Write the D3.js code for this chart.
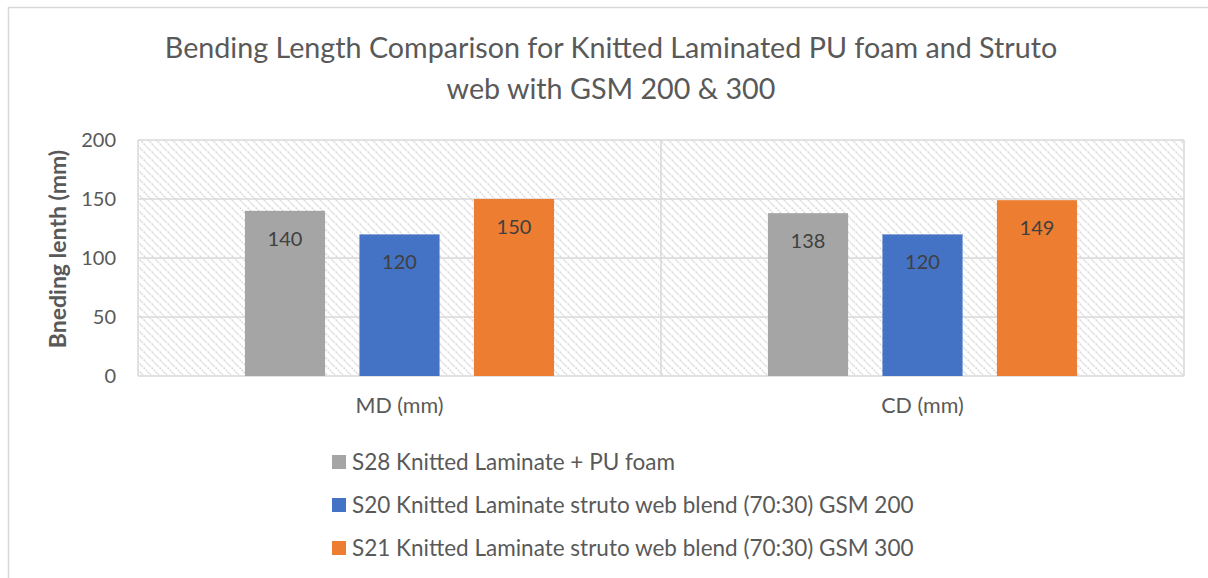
<!DOCTYPE html>
<html>
<head>
<meta charset="utf-8">
<script src="https://cdn.jsdelivr.net/npm/d3@7/dist/d3.min.js"></script>
<style>
  html, body { margin: 0; padding: 0; background: #fff; }
  svg { display: block; font-family: Lato, "Open Sans", sans-serif; }
</style>
</head>
<body>
<svg id="chart" width="1208" height="578"></svg>
<script>
// Chart data
const categories = ["MD (mm)", "CD (mm)"];
const seriesNames = [
  "S28 Knitted Laminate + PU foam",
  "S20 Knitted Laminate struto web blend (70:30) GSM 200",
  "S21 Knitted Laminate struto web blend (70:30) GSM 300"
];
const s28Values = [140, 138];
const s20Values = [120, 120];
const s21Values = [150, 149];
const yTicks = [0, 50, 100, 150, 200];
const seriesColors = ["#a5a5a5", "#4472c4", "#ed7d31"];

const seriesValues = [s28Values, s20Values, s21Values];

const svg = d3.select("#chart");
const W = 1208, H = 578;

// Outer chart border
svg.append("rect")
  .attr("x", 8.5).attr("y", 7.5)
  .attr("width", W + 10).attr("height", H + 10)
  .attr("fill", "#fff").attr("stroke", "#d9d9d9").attr("stroke-width", 1.5);

// Plot area
const plot = { left: 138, right: 1184, top: 140, bottom: 376 };

// Diagonal hatch fill for the plot background
const defs = svg.append("defs");
const pat = defs.append("pattern")
  .attr("id", "hatch")
  .attr("patternUnits", "userSpaceOnUse")
  .attr("width", 8).attr("height", 8);
pat.append("rect").attr("width", 8).attr("height", 8).attr("fill", "#fff");
pat.append("path")
  .attr("d", "M-2,-2 L10,10 M-2,6 L2,10 M6,-2 L10,2")
  .attr("stroke", "#d6d6d6").attr("stroke-width", 1.7)
  .attr("stroke-dasharray", "1.5,1.2");

svg.append("rect")
  .attr("x", plot.left).attr("y", plot.top)
  .attr("width", plot.right - plot.left).attr("height", plot.bottom - plot.top)
  .attr("fill", "url(#hatch)");

const x = d3.scaleBand().domain(categories).range([plot.left, plot.right]).padding(0);
const xs = d3.scaleBand().domain(d3.range(seriesNames.length))
  .range([0, x.bandwidth()]).paddingInner(0.30).paddingOuter(0.934);
const y = d3.scaleLinear().domain([0, 200]).range([plot.bottom, plot.top]);

const gridColor = "#d9d9d9";

// Horizontal gridlines
svg.append("g").selectAll("line").data(yTicks).join("line")
  .attr("x1", plot.left).attr("x2", plot.right)
  .attr("y1", d => y(d)).attr("y2", d => y(d))
  .attr("stroke", gridColor).attr("stroke-width", 1.5);

// Vertical lines at category boundaries and plot edges
const vEdges = [plot.left, ...categories.slice(1).map(c => x(c)), plot.right];
svg.append("g").selectAll("line").data(vEdges).join("line")
  .attr("x1", d => d).attr("x2", d => d)
  .attr("y1", plot.top).attr("y2", plot.bottom)
  .attr("stroke", gridColor).attr("stroke-width", 1.5);

// Y axis labels
const yAxis = d3.axisLeft(y).tickValues(yTicks).tickSize(0).tickPadding(0);
const yg = svg.append("g").attr("transform", `translate(${plot.left - 22},0)`).call(yAxis);
yg.select(".domain").remove();
yg.selectAll("text")
  .attr("fill", "#595959").style("font-size", "20px")
  .style("font-family", "Lato, 'Open Sans', sans-serif");

// X axis labels
const xAxis = d3.axisBottom(x).tickSize(0).tickPadding(0);
const xg = svg.append("g").attr("transform", `translate(0,${plot.bottom + 22})`).call(xAxis);
xg.select(".domain").remove();
xg.selectAll("text")
  .attr("fill", "#595959").style("font-size", "21.5px")
  .style("font-family", "Lato, 'Open Sans', sans-serif");

// Bars
const barData = [];
categories.forEach((c, ci) => {
  seriesValues.forEach((vals, si) => {
    barData.push({ cat: c, s: si, v: vals[ci] });
  });
});

svg.append("g").selectAll("rect").data(barData).join("rect")
  .attr("x", d => x(d.cat) + xs(d.s))
  .attr("y", d => y(d.v))
  .attr("width", xs.bandwidth())
  .attr("height", d => y(0) - y(d.v))
  .attr("fill", d => seriesColors[d.s]);

// Value labels inside bars
svg.append("g").selectAll("text").data(barData).join("text")
  .attr("x", d => x(d.cat) + xs(d.s) + xs.bandwidth() / 2)
  .attr("y", d => y(d.v) + 35)
  .attr("text-anchor", "middle")
  .attr("fill", "#404040")
  .style("font-size", "20px")
  .text(d => d.v);

// Title
const title = svg.append("text")
  .attr("text-anchor", "middle")
  .attr("fill", "#595959")
  .style("font-size", "28.7px");
title.append("tspan").attr("x", 611).attr("y", 58)
  .text("Bending Length Comparison for Knitted Laminated PU foam and Struto");
title.append("tspan").attr("x", 611).attr("y", 99)
  .text("web with GSM 200 & 300");

// Y axis title
svg.append("text")
  .attr("transform", `translate(66,249) rotate(-90)`)
  .attr("text-anchor", "middle")
  .attr("fill", "#595959")
  .style("font-size", "23px")
  .style("font-weight", "bold")
  .text("Bneding lenth (mm)");

// Legend
const legend = svg.append("g").selectAll("g").data(seriesNames).join("g")
  .attr("transform", (d, i) => `translate(332,${462 + i * 43})`);
legend.append("rect")
  .attr("x", 0).attr("y", -7).attr("width", 14).attr("height", 14)
  .attr("fill", (d, i) => seriesColors[i]);
legend.append("text")
  .attr("x", 20).attr("y", 8)
  .attr("fill", "#595959")
  .style("font-size", "22.5px")
  .text(d => d);
</script>
</body>
</html>
